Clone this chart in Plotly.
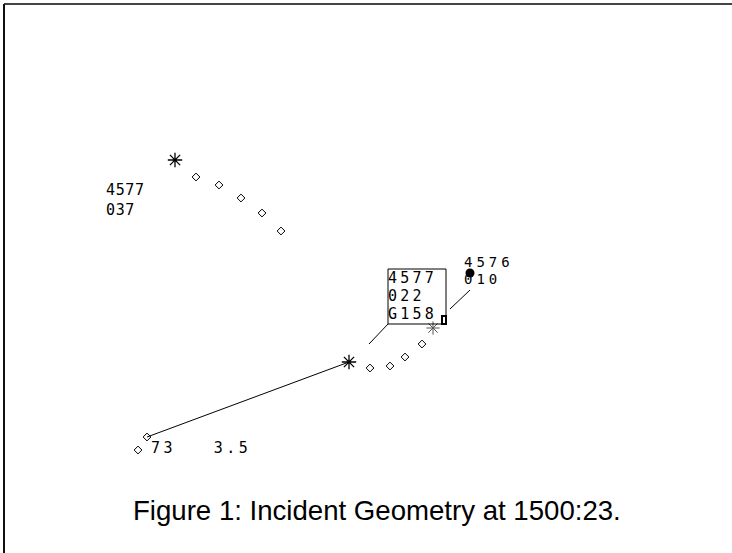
import plotly.graph_objects as go

W, H = 732, 553

# Track 1 (upper 4577 position history): current position + past plots
t1_cur_x = [175]
t1_cur_y = [160]
t1_hist_x = [196, 219, 241, 262, 281]
t1_hist_y = [177, 185, 198, 213, 231]

# Track 2 (lower 4577): radar line, current, history
t2_line_x = [147, 349]
t2_line_y = [437, 362]
t2_start_x = [138, 147]
t2_start_y = [450, 437]
t2_cur_x = [349]
t2_cur_y = [362]
t2_hist_x = [370, 390, 405, 422]
t2_hist_y = [368, 366, 357, 344]
t2_head_x = [433]
t2_head_y = [328]

# 4576 aircraft symbol
a4576_x = [470]
a4576_y = [273]

# Labels (one entry per text line)
label_4577a = ["4577", "037"]
label_4577b = ["4577", "022", "G158"]
label_4576 = ["4576", "010"]
speed_label = "73   3.5"
title_text = "Figure 1: Incident Geometry at 1500:23."

# leader lines
leader_b_x = [388, 369]
leader_b_y = [324, 344]
leader_c_x = [450, 470]
leader_c_y = [309, 290]

mono = "DejaVu Sans Mono"
blk = "#000000"

fig = go.Figure()
fig.add_trace(go.Scatter(x=t2_line_x, y=t2_line_y, mode="lines",
                         line=dict(color=blk, width=1), hoverinfo="skip"))
fig.add_trace(go.Scatter(x=leader_b_x, y=leader_b_y, mode="lines",
                         line=dict(color=blk, width=1), hoverinfo="skip"))
fig.add_trace(go.Scatter(x=leader_c_x, y=leader_c_y, mode="lines",
                         line=dict(color=blk, width=1), hoverinfo="skip"))
for xs, ys in [(t1_hist_x, t1_hist_y), (t2_start_x, t2_start_y), (t2_hist_x, t2_hist_y)]:
    fig.add_trace(go.Scatter(x=xs, y=ys, mode="markers",
                             marker=dict(symbol="diamond-open", size=6, color=blk,
                                         line=dict(width=1, color=blk))))
for xs, ys in [(t1_cur_x, t1_cur_y), (t2_cur_x, t2_cur_y)]:
    fig.add_trace(go.Scatter(x=xs, y=ys, mode="markers",
                             marker=dict(symbol="asterisk-open", size=12, color=blk,
                                         line=dict(width=1.3, color=blk))))
fig.add_trace(go.Scatter(x=t2_head_x, y=t2_head_y, mode="markers",
                         marker=dict(symbol="asterisk-open", size=11, color="#555555",
                                     line=dict(width=1, color="#555555"))))
fig.add_trace(go.Scatter(x=a4576_x, y=a4576_y, mode="markers",
                         marker=dict(symbol="circle", size=9, color=blk)))

# data block box and small square
fig.add_shape(type="rect", x0=388, y0=269, x1=446, y1=324,
              line=dict(color=blk, width=1))
fig.add_shape(type="rect", x0=442, y0=316, x1=446, y1=324,
              line=dict(color=blk, width=2))
# frame (top & left edges)
fig.add_shape(type="line", x0=4, y0=4, x1=W, y1=4, line=dict(color="#444444", width=2))
fig.add_shape(type="line", x0=4, y0=4, x1=4, y1=H, line=dict(color="#111111", width=2))

def txt(x, y, s, size=15, spacing=0.0, font=mono, anchor="left"):
    if spacing:
        s = '<span style="letter-spacing:%.1fpx">%s</span>' % (spacing, s)
    fig.add_annotation(x=x, y=y, text=s, showarrow=False, xanchor=anchor, yanchor="top",
                       align="left", font=dict(family=font, size=size, color=blk),
                       xref="x", yref="y")

def block(x, y0, lines, size, step, spacing):
    for i, s in enumerate(lines):
        txt(x, y0 + i * step, s, size=size, spacing=spacing)

block(104, 179, label_4577a, 15, 20, 0.6)
block(386, 267, label_4577b, 15, 18, 3.2)
block(462, 252, label_4576, 14, 17, 4.0)
txt(149, 437, speed_label, size=15, spacing=3.5)
fig.add_annotation(x=377, y=510, text=title_text, showarrow=False, xanchor="center",
                   yanchor="middle", font=dict(family="Liberation Sans, Arial", size=27.6, color=blk))

fig.update_xaxes(range=[0, W], visible=False, fixedrange=True)
fig.update_yaxes(range=[H, 0], visible=False, fixedrange=True)
fig.update_layout(width=W, height=H, margin=dict(l=0, r=0, t=0, b=0),
                  paper_bgcolor="white", plot_bgcolor="white", showlegend=False)
fig.write_html("out.html", post_script="document.body.style.margin='0px';",
               config={"displayModeBar": False})
